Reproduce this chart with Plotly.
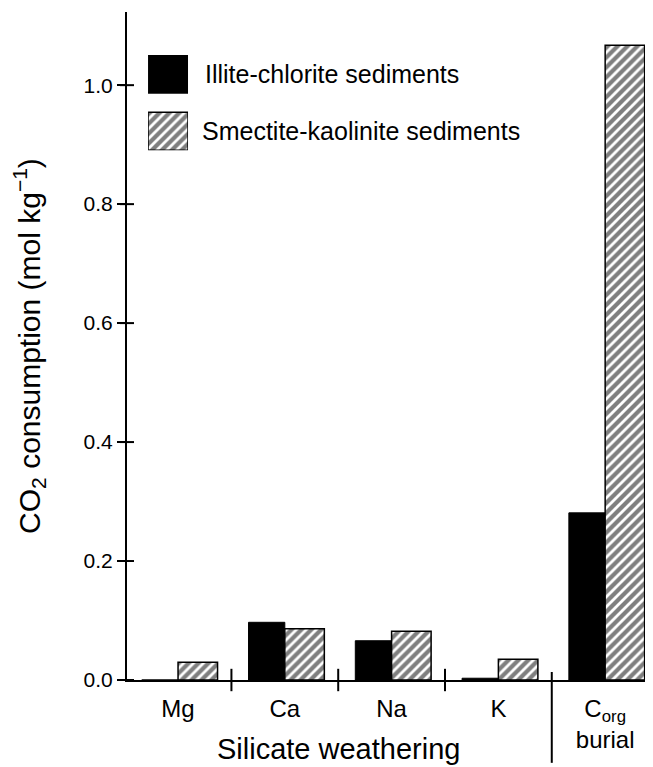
import plotly.graph_objects as go

# ---- data ----
categories = ["Mg", "Ca", "Na", "K", "C<sub>org</sub><br>burial"]
silicate_label = "Silicate weathering"
series_names = ["Illite-chlorite sediments", "Smectite-kaolinite sediments"]
illite_chlorite = [0.0, 0.097, 0.066, 0.003, 0.281]
smectite_kaolinite = [0.030, 0.086, 0.082, 0.035, 1.067]
y_tick_values = [0.0, 0.2, 0.4, 0.6, 0.8, 1.0]
n_silicate = 4

FONT = "Liberation Sans, Arial, Helvetica, sans-serif"
x_pos = list(range(len(categories)))
boundaries = [i + 0.5 for i in range(n_silicate - 1)]
divider = n_silicate - 0.5
silicate_center = (n_silicate - 1) / 2
x_range = [-0.478, 4.448]
y_range = [0, 1.123]

hatch = dict(shape="/", fgcolor="black", bgcolor="white", size=7, solidity=0.6)

fig = go.Figure()
fig.add_trace(go.Bar(x=x_pos, y=illite_chlorite, name=series_names[0],
                     marker=dict(color="black", line=dict(color="black", width=1)),
                     width=0.34, offset=-0.34, showlegend=False))
fig.add_trace(go.Bar(x=x_pos, y=smectite_kaolinite, name=series_names[1],
                     marker=dict(color="white", pattern=hatch,
                                 line=dict(color="black", width=1.5)),
                     width=0.37, offset=0, showlegend=False))

# separator ticks crossing the x axis
fig.add_trace(go.Scatter(x=boundaries, y=[0] * len(boundaries), mode="markers",
                         marker=dict(symbol="line-ns", size=16, color="black",
                                     line=dict(color="black", width=2)),
                         cliponaxis=False, showlegend=False, hoverinfo="skip"))
# inward half of the y ticks
fig.add_trace(go.Scatter(x=[x_range[0]] * len(y_tick_values), y=y_tick_values, mode="markers",
                         marker=dict(symbol="line-ew", size=10, color="black",
                                     line=dict(color="black", width=2)),
                         cliponaxis=False, showlegend=False, hoverinfo="skip"))

# legend keys (drawn as bars on a small inset axis)
fig.add_trace(go.Bar(x=[1], y=[0], orientation="h", xaxis="x4", yaxis="y4",
                     marker=dict(color="black", line=dict(color="black", width=1)),
                     width=0.667, offset=-0.333, showlegend=False, hoverinfo="skip"))
fig.add_trace(go.Bar(x=[1], y=[1], orientation="h", xaxis="x4", yaxis="y4",
                     marker=dict(color="white", pattern=hatch,
                                 line=dict(color="black", width=1.5)),
                     width=0.667, offset=-0.333, showlegend=False, hoverinfo="skip"))

annotations = [
    dict(text=silicate_label, x=silicate_center, xref="x", y=-0.103, yref="paper",
         xanchor="center", yanchor="middle", showarrow=False,
         font=dict(family=FONT, size=29, color="black")),
]
for i, name in enumerate(series_names):
    annotations.append(dict(text=name, x=0.1445 - 0.006 * i, xref="paper", y=i, yref="y4",
                            xanchor="left", yanchor="middle", showarrow=False,
                            font=dict(family=FONT, size=25, color="black")))

common = dict(showgrid=False, zeroline=False)
fig.update_layout(
    width=645, height=759,
    margin=dict(l=119, r=0, t=4, b=87),
    paper_bgcolor="white", plot_bgcolor="white",
    barmode="group",
    showlegend=False,
    font=dict(family=FONT, color="black"),
    xaxis=dict(range=x_range, tickvals=x_pos, ticktext=categories,
               showline=True, linecolor="black", linewidth=2,
               ticks="outside", ticklen=6, tickcolor="rgba(0,0,0,0)",
               tickfont=dict(size=24), **common),
    yaxis=dict(range=y_range, tickvals=y_tick_values, tickformat=".1f",
               showline=True, linecolor="black", linewidth=2,
               ticks="outside", ticklen=8, tickwidth=2, tickcolor="black",
               tickfont=dict(size=21),
               title=dict(text="CO<sub>2</sub> consumption (mol kg<sup>\u22121</sup>)",
                          font=dict(size=30), standoff=36), **common),
    xaxis4=dict(domain=[0.040, 0.116], anchor="y4", range=[0, 1], visible=False),
    yaxis4=dict(domain=[0.793, 0.9356], anchor="x4", range=[1.333, -0.333], visible=False),
    shapes=[dict(type="line", xref="x", yref="paper", x0=divider, x1=divider,
                 y0=0.012, y1=-0.124, line=dict(color="black", width=2))],
    annotations=annotations,
)

fig.write_html("out.html")
